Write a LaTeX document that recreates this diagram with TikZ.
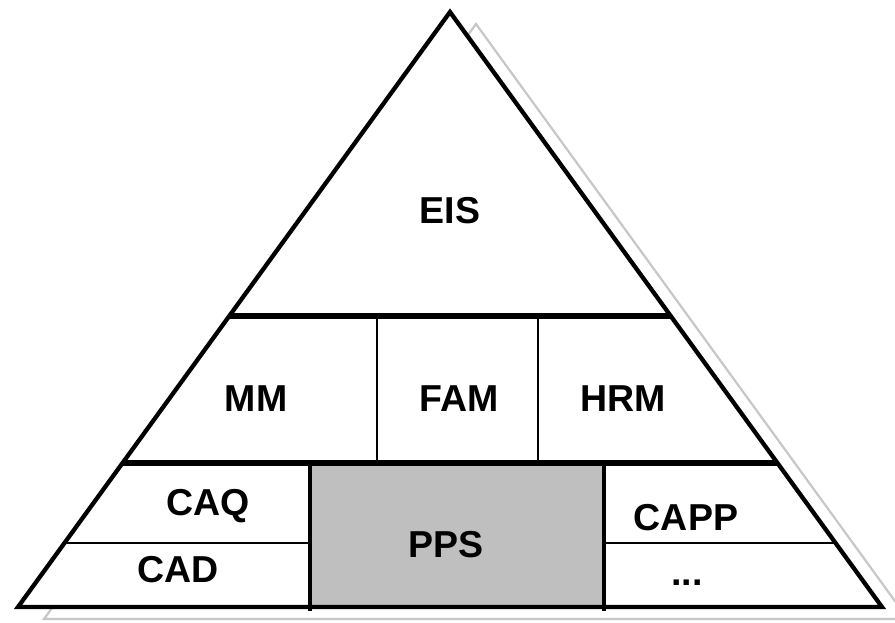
\documentclass[tikz,border=0pt]{standalone}
\usepackage{fontspec}
\setmainfont{Liberation Sans}
\begin{document}
\begin{tikzpicture}[x=1pt,y=-1pt,
  lbl/.style={anchor=base,inner sep=0pt,font=\fontsize{37.5}{40}\selectfont\bfseries},
  outline/.style={line width=4.3pt,line join=miter},
  thick line/.style={line width=5.2pt},
  thin line/.style={line width=2.1pt},
  shadowline/.style={draw=black!22,line width=2.2pt}]
\useasboundingbox (0,0) rectangle (895,622);
% corners
\coordinate (A) at (450,12);
\coordinate (BL) at (18,607);
\coordinate (BR) at (882,607);
\coordinate (SA) at (476,24);
\coordinate (SL) at (44,619);
\coordinate (SR) at (908,619);
% shadow
\begin{scope}
\clip (0,0) rectangle (895,622);
\draw[shadowline] (SA) -- (SR) -- (SL) -- cycle;
\end{scope}
% main fill
\fill[white] (A) -- (BR) -- (BL) -- cycle;
% row boundaries on the edges
\coordinate (L1) at (229.3,316);
\coordinate (R1) at (670.7,316);
\coordinate (L2) at (122.6,463);
\coordinate (R2) at (777.4,463);
\coordinate (L3) at (64.5,543);
\coordinate (R3) at (835.5,543);
% PPS box
\coordinate (P1) at (310,463);
\coordinate (P2) at (604,607);
\fill[black!25] (P1) rectangle (P2);
% middle row dividers
\coordinate (V1t) at (377,316);
\coordinate (V1b) at (377,463);
\coordinate (V2t) at (538,316);
\coordinate (V2b) at (538,463);
\draw[thin line] (V1t) -- (V1b);
\draw[thin line] (V2t) -- (V2b);
% bottom row thin dividers
\coordinate (P1m) at (310,543);
\coordinate (P2m) at (604,543);
\draw[thin line] (L3) -- (P1m);
\draw[thin line] (P2m) -- (R3);
% PPS verticals
\coordinate (P1b) at (310,611);
\coordinate (P2t) at (604,463);
\coordinate (P2b) at (604,611);
\draw[line width=3.4pt] (P1) -- (P1b);
\draw[line width=3.4pt] (P2t) -- (P2b);
% thick horizontals
\draw[thick line] (L1) -- (R1);
\draw[thick line] (L2) -- (R2);
% outline
\draw[outline] (A) -- (BR) -- (BL) -- cycle;
% labels
\node[lbl] (eis) at (450,223) {EIS};
\node[lbl] (mm) at (256,411) {MM};
\node[lbl] (fam) at (459,411) {FAM};
\node[lbl] (hrm) at (623,411) {HRM};
\node[lbl] (caq) at (208,515) {CAQ};
\node[lbl] (cad) at (178,582) {CAD};
\node[lbl] (pps) at (446,557) {PPS};
\node[lbl] (capp) at (686,530) {CAPP};
\node[lbl] (dots) at (687,585) {...};
\end{tikzpicture}
\end{document}
